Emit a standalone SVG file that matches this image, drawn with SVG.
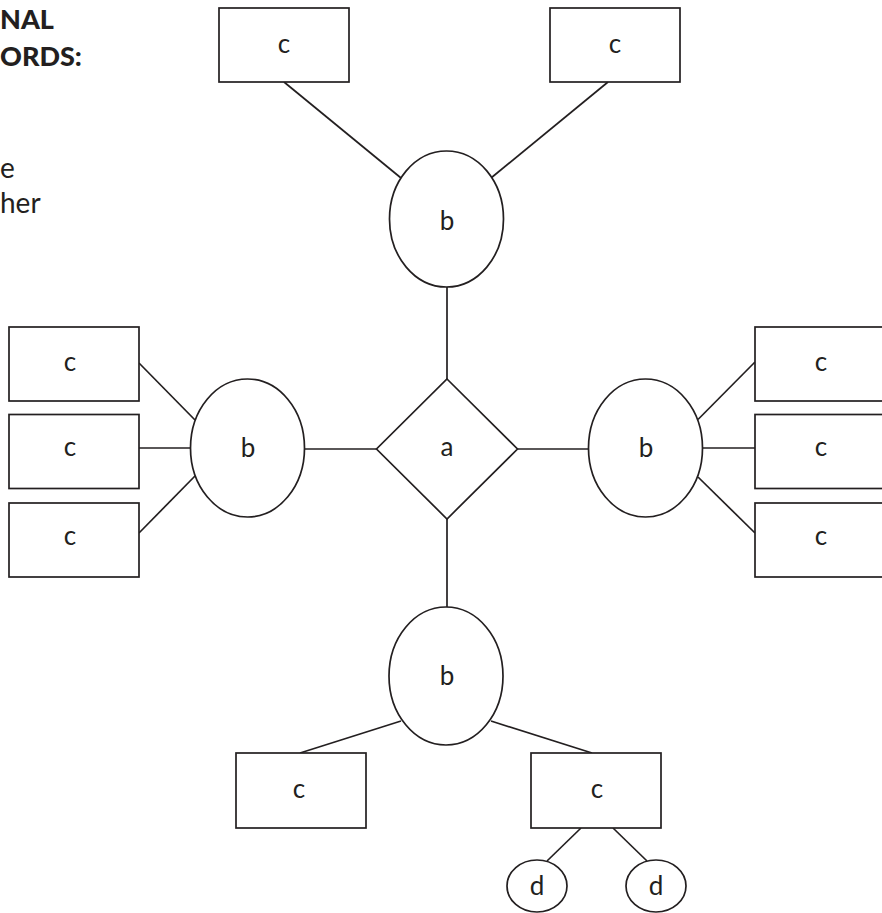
<svg xmlns="http://www.w3.org/2000/svg" width="882" height="913" viewBox="0 0 882 913">
<style>
.s{fill:#fff;stroke:#231f20;stroke-width:1.7}
.c line{stroke:#231f20;stroke-width:1.7}
.t{font-family:Lato,"Liberation Sans",sans-serif;font-size:26px;fill:#231f20;text-anchor:middle}
.h{font-family:Lato,"Liberation Sans",sans-serif;font-size:27px;font-weight:900;fill:#231f20}
.p{font-family:Lato,"Liberation Sans",sans-serif;font-size:28px;fill:#231f20}
</style>
<rect width="882" height="913" fill="#fff"/>
<g id="margin-text">
<text class="h" x="0" y="29">NAL</text>
<text class="h" x="0" y="66">ORDS:</text>
<text class="p" x="0" y="178">e</text>
<text class="p" x="0" y="213">her</text>
</g>
<g class="c" id="connectors">
<line x1="284" y1="82" x2="401" y2="178"/>
<line x1="608" y1="82" x2="491" y2="178"/>
<line x1="447" y1="287" x2="447" y2="379"/>
<line x1="304.5" y1="449" x2="376.5" y2="449"/>
<line x1="517.5" y1="449" x2="588.5" y2="449"/>
<line x1="447" y1="519" x2="447" y2="607"/>
<line x1="139" y1="363" x2="195" y2="420"/>
<line x1="139" y1="448" x2="190.5" y2="448"/>
<line x1="139" y1="533" x2="195" y2="476"/>
<line x1="698" y1="419.5" x2="755" y2="362"/>
<line x1="702.5" y1="448" x2="755" y2="448"/>
<line x1="698" y1="477" x2="755" y2="533"/>
<line x1="401" y1="721" x2="300" y2="753"/>
<line x1="491" y1="721" x2="592" y2="753"/>
<line x1="581" y1="828" x2="547" y2="861"/>
<line x1="613" y1="828" x2="647" y2="861"/>
</g>
<g id="a"><polygon class="s" points="447,379 517.5,449 447,519 376.5,449"/><text class="t" x="447" y="456">a</text></g>
<g id="b-top"><ellipse class="s" cx="446.5" cy="219" rx="57" ry="68"/><text class="t" x="447" y="230">b</text></g>
<g id="b-left"><ellipse class="s" cx="247.5" cy="448" rx="57" ry="69"/><text class="t" x="248" y="457">b</text></g>
<g id="b-right"><ellipse class="s" cx="645.5" cy="448" rx="57" ry="69"/><text class="t" x="646" y="457">b</text></g>
<g id="b-bottom"><ellipse class="s" cx="446" cy="676" rx="57" ry="69"/><text class="t" x="447" y="685">b</text></g>
<g id="c-top-left"><rect class="s" x="219" y="8" width="130" height="74"/><text class="t" x="284" y="53">c</text></g>
<g id="c-top-right"><rect class="s" x="550" y="8" width="130" height="74"/><text class="t" x="615" y="53">c</text></g>
<g id="c-left-1"><rect class="s" x="9" y="327" width="130" height="74"/><text class="t" x="70" y="371">c</text></g>
<g id="c-left-2"><rect class="s" x="9" y="414.5" width="130" height="74"/><text class="t" x="70" y="456">c</text></g>
<g id="c-left-3"><rect class="s" x="9" y="503" width="130" height="74"/><text class="t" x="70" y="545">c</text></g>
<g id="c-right-1"><rect class="s" x="755" y="327" width="130" height="74"/><text class="t" x="821" y="371">c</text></g>
<g id="c-right-2"><rect class="s" x="755" y="414.5" width="130" height="74"/><text class="t" x="821" y="456">c</text></g>
<g id="c-right-3"><rect class="s" x="755" y="503" width="130" height="74"/><text class="t" x="821" y="545">c</text></g>
<g id="c-bottom-left"><rect class="s" x="236" y="753" width="130" height="75"/><text class="t" x="299" y="798">c</text></g>
<g id="c-bottom-right"><rect class="s" x="531" y="753" width="130" height="75"/><text class="t" x="597" y="798">c</text></g>
<g id="d-left"><ellipse class="s" cx="537" cy="886" rx="30" ry="26"/><text class="t" x="537" y="895">d</text></g>
<g id="d-right"><ellipse class="s" cx="656" cy="886" rx="30" ry="26"/><text class="t" x="656" y="895">d</text></g>
</svg>
